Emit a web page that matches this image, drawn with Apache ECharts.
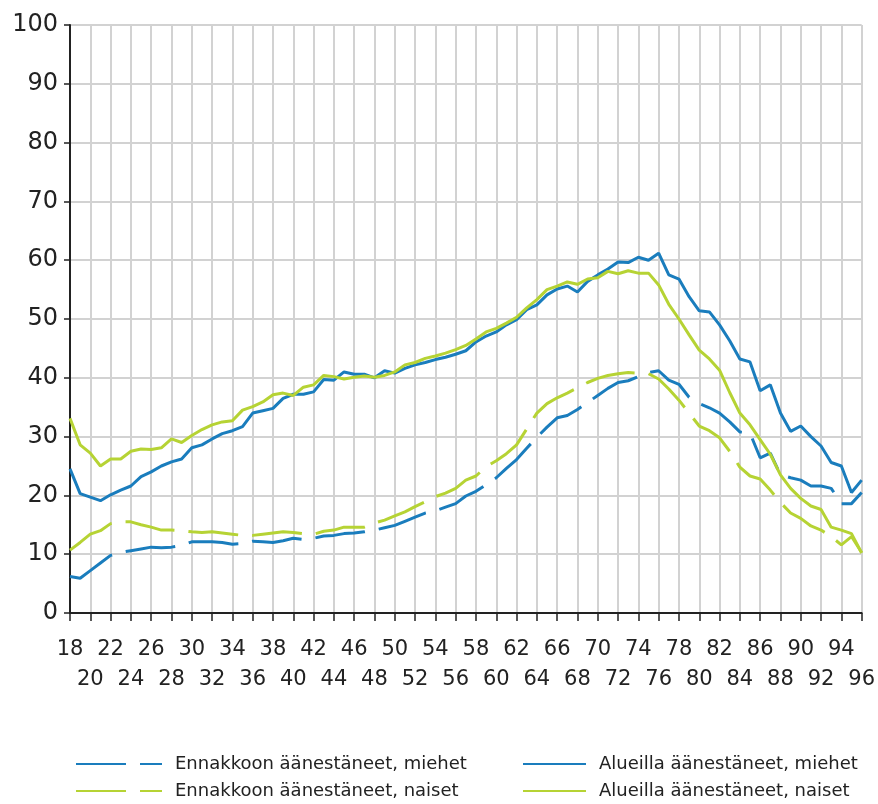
<!DOCTYPE html>
<html>
<head>
<meta charset="utf-8">
<script src="https://cdn.jsdelivr.net/npm/echarts@6/dist/echarts.min.js"></script>
<style>
html,body{margin:0;padding:0;background:#fff;}
#chart{width:878px;height:804px;}
</style>
</head>
<body>
<div id="chart"></div>
<script>
// Ages 18..96
const ages = [];
for (let a = 18; a <= 96; a++) ages.push(String(a));

const yTicks = [0, 10, 20, 30, 40, 50, 60, 70, 80, 90, 100];

const seriesNames = [
  'Ennakkoon äänestäneet, miehet',
  'Alueilla äänestäneet, miehet',
  'Ennakkoon äänestäneet, naiset',
  'Alueilla äänestäneet, naiset'
];

const ennakkoMiehet = [
  6.2, 5.9, 7.2, 8.5, 9.8, 10.3, 10.6, 10.9, 11.2, 11.1,
  11.2, 11.5, 12.1, 12.1, 12.1, 12.0, 11.7, 11.8, 12.2, 12.1,
  12.0, 12.3, 12.7, 12.5, 12.7, 13.1, 13.2, 13.5, 13.6, 13.8,
  14.1, 14.5, 14.9, 15.6, 16.3, 17.0, 17.4, 18.0, 18.6, 19.9,
  20.7, 21.8, 23.0, 24.6, 26.1, 28.0, 29.9, 31.6, 33.2, 33.6,
  34.6, 35.8, 37.0, 38.2, 39.2, 39.5, 40.2, 40.9, 41.2, 39.6,
  38.9, 36.7, 35.6, 34.9, 34.0, 32.5, 30.8, 30.6, 26.4, 27.2,
  23.5, 23.0, 22.6, 21.6, 21.6, 21.2, 18.6, 18.6, 20.5
];

const alueillaMiehet = [
  24.5, 20.3, 19.7, 19.1, 20.1, 20.9, 21.6, 23.2, 24.0, 25.0,
  25.7, 26.2, 28.1, 28.6, 29.6, 30.5, 31.0, 31.7, 34.0, 34.4,
  34.8, 36.5, 37.2, 37.2, 37.6, 39.7, 39.6, 41.0, 40.6, 40.6,
  40.0, 41.2, 40.8, 41.6, 42.2, 42.6, 43.1, 43.5, 44.0, 44.6,
  46.1, 47.1, 47.8, 49.0, 49.9, 51.6, 52.4, 54.1, 55.1, 55.6,
  54.6, 56.4, 57.5, 58.5, 59.7, 59.6, 60.5, 60.0, 61.2, 57.5,
  56.8, 53.8, 51.4, 51.2, 49.0, 46.3, 43.2, 42.7, 37.8, 38.8,
  34.0, 30.9, 31.8, 30.0, 28.4, 25.6, 25.0, 20.5, 22.6
];

const ennakkoNaiset = [
  10.7, 12.0, 13.4, 14.0, 15.2, 15.5, 15.5, 15.0, 14.6, 14.1,
  14.1, 14.0, 13.8, 13.7, 13.8, 13.6, 13.4, 13.2, 13.2, 13.4,
  13.6, 13.8, 13.7, 13.5, 13.4, 13.9, 14.1, 14.6, 14.6, 14.6,
  15.3, 15.8, 16.5, 17.2, 18.1, 18.9, 19.8, 20.4, 21.2, 22.6,
  23.3, 24.9, 25.9, 27.1, 28.6, 31.3, 34.0, 35.6, 36.6, 37.4,
  38.3, 39.2, 39.9, 40.4, 40.7, 40.9, 40.8, 40.7, 39.8, 38.1,
  36.2, 34.0, 31.8, 31.0, 29.8, 27.5, 24.8, 23.3, 22.8, 20.9,
  18.8, 17.0, 16.1, 14.8, 14.1, 13.0, 11.6, 13.0, 10.3
];

const alueillaNaiset = [
  33.1, 28.6, 27.2, 25.0, 26.2, 26.2, 27.5, 27.9, 27.8, 28.1,
  29.6, 29.0, 30.2, 31.2, 32.0, 32.5, 32.7, 34.5, 35.1, 35.9,
  37.1, 37.4, 37.0, 38.4, 38.8, 40.4, 40.2, 39.8, 40.1, 40.3,
  40.1, 40.4, 41.0, 42.2, 42.6, 43.3, 43.7, 44.2, 44.8, 45.5,
  46.6, 47.8, 48.4, 49.3, 50.3, 51.9, 53.3, 55.0, 55.6, 56.3,
  55.9, 56.8, 57.0, 58.1, 57.7, 58.2, 57.8, 57.8, 55.8, 52.5,
  50.0, 47.3, 44.7, 43.2, 41.3, 37.5, 34.0, 32.0, 29.5, 27.0,
  23.5, 21.2, 19.5, 18.2, 17.6, 14.6, 14.1, 13.5, 10.2
];

const BLUE = '#1a7dbd';
const GREEN = '#b6d334';
const DASH = [50, 14];
const FONT = 'DejaVu Sans';
const TXT = '#222';
const GRID = '#d2d2d2';

function mkSeries(name, data, color, dashed) {
  return {
    name: name,
    type: 'line',
    xAxisIndex: 0,
    data: data,
    symbol: 'none',
    showSymbol: false,
    smooth: false,
    lineStyle: { color: color, width: 3, type: dashed ? DASH : 'solid', cap: 'butt' },
    itemStyle: { color: color },
    emphasis: { disabled: true },
    animation: false
  };
}

function mkLegend(name, left, top, width) {
  return {
    data: [name],
    left: left,
    top: top,
    orient: 'horizontal',
    padding: 0,
    itemWidth: width,
    itemHeight: 14,
    itemGap: 10,
    itemStyle: { opacity: 0 },
    textStyle: { fontFamily: FONT, fontSize: 18, color: TXT, padding: [0, 0, 0, 8] },
    selectedMode: false
  };
}

const labelBase = { fontFamily: FONT, fontSize: 21, color: TXT, showMinLabel: true, showMaxLabel: true, hideOverlap: false };

const chart = echarts.init(document.getElementById('chart'), null, { renderer: 'canvas' });
chart.setOption({
  animation: false,
  backgroundColor: '#fff',
  grid: { left: 70, right: 13, top: 25, bottom: 191, containLabel: false },
  legend: [
    mkLegend(seriesNames[0], 75, 755, 86),
    mkLegend(seriesNames[1], 522, 755, 63),
    mkLegend(seriesNames[2], 75, 782, 86),
    mkLegend(seriesNames[3], 522, 782, 63)
  ],
  xAxis: [
    {
      type: 'category',
      data: ages,
      boundaryGap: false,
      position: 'bottom',
      axisLine: { show: true, lineStyle: { color: TXT, width: 2 } },
      axisTick: { show: true, interval: 1, length: 8, lineStyle: { color: TXT, width: 1.5 } },
      axisLabel: Object.assign({}, labelBase, {
        margin: 26,
        interval: function (idx) { return idx % 4 === 0; }
      }),
      splitLine: { show: true, interval: 1, lineStyle: { color: GRID, width: 2 } }
    },
    {
      type: 'category',
      data: ages,
      boundaryGap: false,
      position: 'bottom',
      axisLine: { show: false },
      axisTick: { show: false },
      splitLine: { show: false },
      axisLabel: Object.assign({}, labelBase, {
        margin: 56,
        interval: function (idx) { return idx % 4 === 2; }
      })
    }
  ],
  yAxis: {
    type: 'value',
    min: yTicks[0],
    max: yTicks[yTicks.length - 1],
    interval: 10,
    axisLine: { show: true, lineStyle: { color: TXT, width: 2 } },
    axisTick: { show: true, length: 6, lineStyle: { color: TXT, width: 1.5 } },
    axisLabel: { fontFamily: FONT, fontSize: 24, color: TXT, margin: 12 },
    splitLine: { show: true, lineStyle: { color: GRID, width: 2 } }
  },
  series: [
    mkSeries(seriesNames[0], ennakkoMiehet, BLUE, true),
    mkSeries(seriesNames[1], alueillaMiehet, BLUE, false),
    mkSeries(seriesNames[2], ennakkoNaiset, GREEN, true),
    mkSeries(seriesNames[3], alueillaNaiset, GREEN, false)
  ]
});
</script>
</body>
</html>
